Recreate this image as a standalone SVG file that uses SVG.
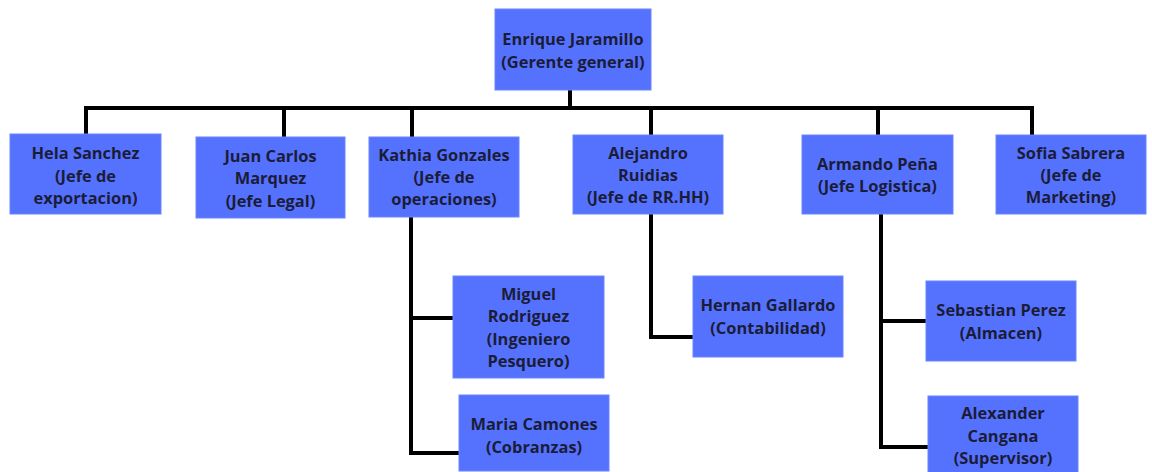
<svg xmlns="http://www.w3.org/2000/svg" width="1152" height="472" viewBox="0 0 1152 472">
<style>
.box{fill:#5572ff;stroke:#6a84ff;stroke-width:1}
.t{font-family:"Open Sans","Noto Sans",sans-serif;font-weight:700;font-size:16.4px;fill:#1b1c38;text-anchor:middle}
.c{fill:none;stroke:#000;stroke-width:4;stroke-linejoin:miter;stroke-linecap:square}
</style>
<rect width="1152" height="472" fill="#fff"/>
<g id="connectors">
<path class="c" d="M570 90V108"/>
<path class="c" d="M86 134V108H1032V135"/>
<path class="c" d="M284 108V137"/>
<path class="c" d="M412 108V137"/>
<path class="c" d="M651 108V135"/>
<path class="c" d="M878 108V135"/>
<path class="c" d="M411 217V453H459"/>
<path class="c" d="M411 318H453"/>
<path class="c" d="M651 214V337H693"/>
<path class="c" d="M881 214V447H928"/>
<path class="c" d="M881 321H926"/>
</g>
<g id="n-enrique"><rect class="box" x="495" y="9" width="156" height="81"/><text class="t" x="573" y="45">Enrique Jaramillo</text><text class="t" x="573" y="68">(Gerente general)</text></g>
<g id="n-hela"><rect class="box" x="10" y="134" width="151" height="80"/><text class="t" x="85.5" y="159">Hela Sanchez</text><text class="t" x="85.5" y="181.5">(Jefe de</text><text class="t" x="85.5" y="204">exportacion)</text></g>
<g id="n-juan"><rect class="box" x="196" y="137" width="149" height="81"/><text class="t" x="270.5" y="161.5">Juan Carlos</text><text class="t" x="270.5" y="184">Marquez</text><text class="t" x="270.5" y="206.5">(Jefe Legal)</text></g>
<g id="n-kathia"><rect class="box" x="369" y="137" width="150" height="80"/><text class="t" x="444" y="160.5">Kathia Gonzales</text><text class="t" x="444" y="183">(Jefe de</text><text class="t" x="444" y="205">operaciones)</text></g>
<g id="n-alejandro"><rect class="box" x="573" y="135" width="150" height="79"/><text class="t" x="648" y="159">Alejandro</text><text class="t" x="648" y="181">Ruidias</text><text class="t" x="648" y="203">(Jefe de RR.HH)</text></g>
<g id="n-armando"><rect class="box" x="802" y="135" width="151" height="79"/><text class="t" x="877.5" y="169.5">Armando Peña</text><text class="t" x="877.5" y="192">(Jefe Logistica)</text></g>
<g id="n-sofia"><rect class="box" x="996" y="135" width="150" height="79"/><text class="t" x="1071" y="159">Sofia Sabrera</text><text class="t" x="1071" y="181">(Jefe de</text><text class="t" x="1071" y="203">Marketing)</text></g>
<g id="n-miguel"><rect class="box" x="453" y="276" width="151" height="102"/><text class="t" x="528.5" y="299.5">Miguel</text><text class="t" x="528.5" y="322">Rodriguez</text><text class="t" x="528.5" y="344.5">(Ingeniero</text><text class="t" x="528.5" y="366.5">Pesquero)</text></g>
<g id="n-maria"><rect class="box" x="459" y="395" width="150" height="76"/><text class="t" x="534" y="429.5">Maria Camones</text><text class="t" x="534" y="452.5">(Cobranzas)</text></g>
<g id="n-hernan"><rect class="box" x="693" y="276" width="150" height="81"/><text class="t" x="768" y="310.5">Hernan Gallardo</text><text class="t" x="768" y="333.5">(Contabilidad)</text></g>
<g id="n-sebastian"><rect class="box" x="926" y="281" width="150" height="80"/><text class="t" x="1001" y="315.5">Sebastian Perez</text><text class="t" x="1001" y="338.5">(Almacen)</text></g>
<g id="n-alexander"><rect class="box" x="928" y="396" width="150" height="78"/><text class="t" x="1003" y="418.5">Alexander</text><text class="t" x="1003" y="441.5">Cangana</text><text class="t" x="1003" y="463.5">(Supervisor)</text></g>
</svg>
